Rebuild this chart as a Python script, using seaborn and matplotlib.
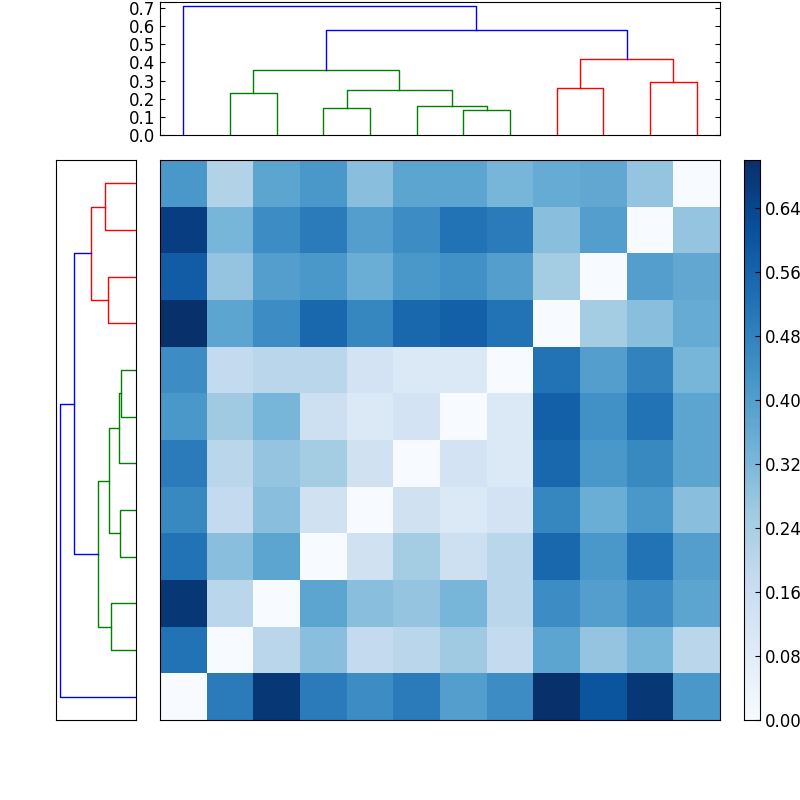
import numpy as np
import matplotlib
matplotlib.use("Agg")
import matplotlib.pyplot as plt
import seaborn as sns

# distance matrix, rows listed top-to-bottom as displayed (row for leaf 11 first)
rows_top_down = [
    [0.42, 0.22, 0.38, 0.42, 0.30, 0.38, 0.38, 0.33, 0.36, 0.37, 0.28, 0.00],
    [0.66, 0.33, 0.45, 0.50, 0.40, 0.45, 0.52, 0.50, 0.30, 0.40, 0.00, 0.28],
    [0.58, 0.28, 0.40, 0.42, 0.35, 0.42, 0.44, 0.40, 0.25, 0.00, 0.40, 0.37],
    [0.70, 0.38, 0.45, 0.55, 0.47, 0.55, 0.57, 0.52, 0.00, 0.25, 0.30, 0.36],
    [0.45, 0.18, 0.20, 0.20, 0.13, 0.10, 0.10, 0.00, 0.52, 0.40, 0.48, 0.33],
    [0.42, 0.26, 0.33, 0.15, 0.10, 0.13, 0.00, 0.10, 0.57, 0.44, 0.52, 0.38],
    [0.50, 0.20, 0.28, 0.25, 0.14, 0.00, 0.13, 0.10, 0.55, 0.42, 0.46, 0.38],
    [0.46, 0.18, 0.30, 0.14, 0.00, 0.14, 0.10, 0.13, 0.47, 0.35, 0.42, 0.30],
    [0.52, 0.30, 0.38, 0.00, 0.14, 0.25, 0.15, 0.20, 0.55, 0.42, 0.52, 0.40],
    [0.68, 0.20, 0.00, 0.38, 0.30, 0.28, 0.33, 0.20, 0.45, 0.40, 0.45, 0.38],
    [0.52, 0.00, 0.20, 0.30, 0.18, 0.20, 0.26, 0.18, 0.38, 0.28, 0.33, 0.20],
    [0.00, 0.50, 0.68, 0.50, 0.45, 0.50, 0.40, 0.45, 0.70, 0.60, 0.68, 0.42],
]

# linkage: (child a, child b, height); leaves 0..11, merged clusters 12+
merges = [
    (6, 7, 0.14),    # 12
    (3, 4, 0.15),    # 13
    (5, 12, 0.16),   # 14
    (1, 2, 0.23),    # 15
    (13, 14, 0.25),  # 16
    (8, 9, 0.26),    # 17
    (10, 11, 0.29),  # 18
    (15, 16, 0.36),  # 19
    (17, 18, 0.42),  # 20
    (19, 20, 0.58),  # 21
    (0, 21, 0.71),   # 22
]
cluster_colors = ["g", "r"]
color_threshold = 0.5
n = 12

def layout():
    pos = {i: i + 0.5 for i in range(n)}
    hgt = {i: 0.0 for i in range(n)}
    leaves = {i: [i] for i in range(n)}
    links = []
    for k, (a, b, h) in enumerate(merges):
        nid = n + k
        pos[nid] = (pos[a] + pos[b]) / 2
        hgt[nid] = h
        leaves[nid] = leaves[a] + leaves[b]
        links.append((a, b, nid))
    # colors: clusters below threshold
    color = {}
    ci = 0
    for a, b, nid in links:
        pass
    # find maximal sub-threshold clusters in leaf order
    tops = [nid for (a, b, nid) in links if hgt[nid] < color_threshold]
    maximal = [t for t in tops if not any(t in (a, b) for (a, b, p) in links if p in tops)]
    maximal.sort(key=lambda t: min(leaves[t]))
    for t in maximal:
        c = cluster_colors[ci % len(cluster_colors)]; ci += 1
        for a, b, nid in links:
            if set(leaves[nid]) <= set(leaves[t]):
                color[nid] = c
    segs = []
    for a, b, nid in links:
        c = color.get(nid, "b")
        xs = [pos[a], pos[a], pos[b], pos[b]]
        ys = [hgt[a], hgt[nid], hgt[nid], hgt[b]]
        segs.append((xs, ys, c))
    return segs

segs = layout()

fig = plt.figure(figsize=(8, 8), dpi=100)
ax_top = fig.add_axes([0.2, 0.831, 0.7, 0.166])
ax_left = fig.add_axes([0.07, 0.1, 0.1, 0.7])
ax_hm = fig.add_axes([0.2, 0.1, 0.7, 0.7])
ax_cb = fig.add_axes([0.93, 0.1, 0.02, 0.7])

for xs, ys, c in segs:
    ax_top.plot(xs, ys, color=c, lw=1)
    ax_left.plot(ys, xs, color=c, lw=1)
ax_top.set_xlim(0, n)
ax_top.set_ylim(0, 0.73)
ax_top.set_xticks([])
ax_top.set_yticks(np.arange(0, 0.71, 0.1))
ax_top.tick_params(direction="in", right=True, labelsize=12)
ax_left.set_ylim(0, n)
ax_left.set_xlim(0.75, 0)
ax_left.set_xticks([]); ax_left.set_yticks([])

data = np.array(rows_top_down)
sns.heatmap(data, ax=ax_hm, cmap="Blues", vmin=0, vmax=0.7, cbar_ax=ax_cb,
            xticklabels=False, yticklabels=False,
            cbar_kws={"ticks": np.arange(0, 0.65, 0.08)})
for s in ax_hm.spines.values():
    s.set_visible(True); s.set_color("black")
ax_cb.tick_params(labelsize=12, direction="in")
ax_cb.set_yticklabels([f"{t:.2f}" for t in np.arange(0, 0.65, 0.08)])
for s in ax_cb.spines.values():
    s.set_visible(True); s.set_color("black")

fig.savefig("out.png", dpi=100)
